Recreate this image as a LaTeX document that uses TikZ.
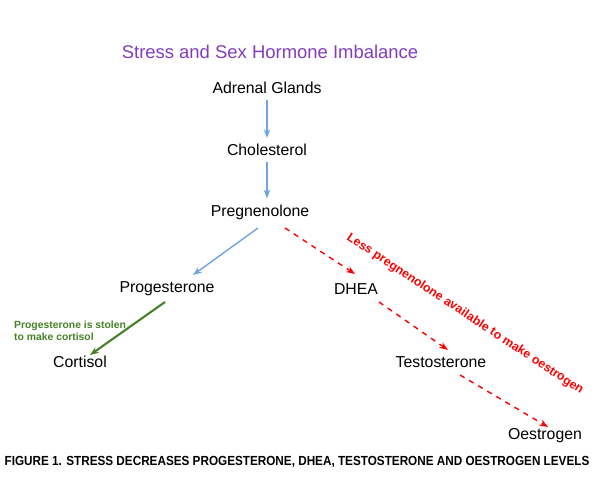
\documentclass[tikz,border=0pt]{standalone}
\usepackage{fontspec}
\setmainfont{Liberation Sans}
\usetikzlibrary{arrows.meta}
\definecolor{titlepurple}{RGB}{130,60,190}
\definecolor{flowblue}{RGB}{110,165,225}
\definecolor{stolengreen}{RGB}{70,130,40}
\tikzset{hormone/.style={font=\fontsize{9}{11}\selectfont},
flow/.style={-{Stealth[length=5pt]}, flowblue, thick},
less/.style={-{Stealth[length=5pt]}, red, dashed, thick}}

\begin{document}
\begin{tikzpicture}[x=0.02cm,y=-0.02cm]
        \useasboundingbox (0,0) rectangle (600,500);
        \node[titlepurple, font=\fontsize{10.5}{13}\selectfont] (title) at (270,52) {Stress and Sex Hormone Imbalance};
        \node[hormone] (adrenal) at (267,88) {Adrenal Glands};
        \node[hormone] (chol) at (267,150) {Cholesterol};
        \node[hormone] (preg) at (260,212) {Pregnenolone};
        \node[hormone] (prog) at (167,289) {Progesterone};
        \node[hormone] (dhea) at (356,289) {DHEA};
        \node[hormone] (cort) at (80,362) {Cortisol};
        \node[hormone] (testo) at (441,362) {Testosterone};
        \node[hormone] (oest) at (545,436) {Oestrogen};
        % arrows
        \draw[flow] (adrenal) -- (chol);
        \draw[flow] (chol.south) -- (chol.south |- preg.north);
        \draw[flow] (258,228) -- (193,275);
        \draw[-{Stealth[length=5pt]}, stolengreen, very thick] (165,302) -- (90,355);
        \draw[less] (285,228) -- (355,274);
        \draw[less] (379,302) -- (448,350);
        \draw[less] (460,375) -- (548,427);
        % labels
        \node[stolengreen, font=\bfseries\fontsize{5.9}{7}\selectfont, align=left, anchor=west] (stolen) at (8,331) {Progesterone is stolen\\to make cortisol};
        \node[red, font=\bfseries\fontsize{7}{8}\selectfont, rotate=-33.5] (lessnote) at (465,314) {Less pregnenolone available to make oestrogen};
        \node[font=\bfseries\fontsize{7.5}{9}\selectfont, xscale=0.89] (caption) at (297,462) {FIGURE 1. STRESS DECREASES PROGESTERONE, DHEA, TESTOSTERONE AND OESTROGEN LEVELS};
\end{tikzpicture}
\end{document}
